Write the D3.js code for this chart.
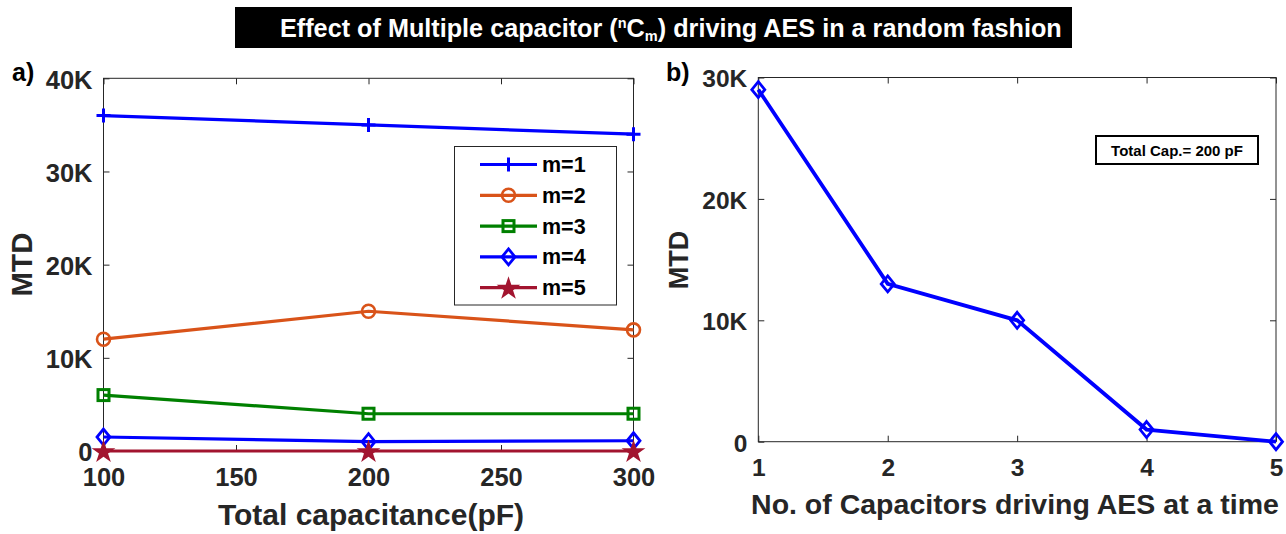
<!DOCTYPE html>
<html>
<head>
<meta charset="utf-8">
<script src="https://cdn.jsdelivr.net/npm/d3@7"></script>
<style>
  html,body{margin:0;padding:0;background:#fff;}
  svg{display:block;font-family:"Liberation Sans",Arial,sans-serif;font-weight:bold;}
</style>
</head>
<body>
<svg id="chart" width="1286" height="534"></svg>
<script>
// ---- data (panel a) ----
const capacitance = [100, 200, 300];
const seriesNames = ["m=1", "m=2", "m=3", "m=4", "m=5"];
const m1 = [36000, 35000, 34000];
const m2 = [12000, 15000, 13000];
const m3 = [6000, 4000, 4000];
const m4 = [1500, 1000, 1100];
const m5 = [0, 0, 0];
const xTicksA = [100, 150, 200, 250, 300];
const yTicksA = [0, 10000, 20000, 30000, 40000];
// ---- data (panel b) ----
const numCaps = [1, 2, 3, 4, 5];
const mtdB = [29000, 13000, 10000, 1000, 0];
const xTicksB = [1, 2, 3, 4, 5];
const yTicksB = [0, 10000, 20000, 30000];

const svg = d3.select("#chart");
const axisColor = "#262626";
const fmtK = d => d === 0 ? "0" : (d / 1000) + "K";

// ---- title ----
svg.append("rect").attr("x", 235).attr("y", 7).attr("width", 837).attr("height", 41).attr("fill", "#000");
const title = svg.append("text").attr("x", 0).attr("y", 0).attr("fill", "#fff").attr("font-size", 26);
title.append("tspan").text("Effect of Multiple capacitor (");
title.append("tspan").text("n").attr("font-size", 15).attr("baseline-shift", "60%");
title.append("tspan").text("C");
title.append("tspan").text("m").attr("font-size", 15).attr("baseline-shift", "-25%");
title.append("tspan").text(") driving AES in a random fashion");
const tw = title.node().getBBox().width;
title.attr("transform", `translate(280,37) scale(${782 / tw},1)`);

function panel(opts) {
  const g = svg.append("g");
  const x = d3.scaleLinear().domain(opts.xDomain).range(opts.xRange);
  const y = d3.scaleLinear().domain(opts.yDomain).range(opts.yRange);
  const [x0, x1] = opts.xRange, [y0, y1] = opts.yRange; // y0 bottom, y1 top

  const styleAxis = sel => {
    sel.select(".domain").remove();
    sel.selectAll("line").attr("stroke", axisColor);
    sel.selectAll("text").attr("fill", axisColor).attr("font-size", opts.tickFont).attr("font-family", null);
  };
  g.append("g").attr("transform", `translate(0,${y0})`)
    .call(d3.axisBottom(x).tickValues(opts.xTicks).tickSize(-6).tickSizeOuter(0).tickPadding(17).tickFormat(d3.format("d")))
    .call(styleAxis);
  g.append("g").attr("transform", `translate(0,${y1})`)
    .call(d3.axisTop(x).tickValues(opts.xTicks).tickSize(-6).tickSizeOuter(0).tickFormat(""))
    .call(styleAxis);
  g.append("g").attr("transform", `translate(${x0},0)`)
    .call(d3.axisLeft(y).tickValues(opts.yTicks).tickSize(-6).tickSizeOuter(0).tickPadding(11).tickFormat(fmtK))
    .call(styleAxis)
    .selectAll("text").attr("dy", "0.38em");
  g.append("g").attr("transform", `translate(${x1},0)`)
    .call(d3.axisRight(y).tickValues(opts.yTicks).tickSize(-6).tickSizeOuter(0).tickFormat(""))
    .call(styleAxis);
  g.append("rect").attr("x", x0).attr("y", y1).attr("width", x1 - x0).attr("height", y0 - y1)
    .attr("fill", "none").attr("stroke", axisColor).attr("stroke-width", 1);
  return {g, x, y};
}

// marker drawing
function marker(sel, type, color) {
  if (type === "plus") {
    sel.append("path").attr("d", "M-7,0H7M0,-7V7").attr("stroke", color).attr("stroke-width", 3).attr("fill", "none");
  } else if (type === "circle") {
    sel.append("circle").attr("r", 6.5).attr("stroke", color).attr("stroke-width", 2.6).attr("fill", "none");
  } else if (type === "square") {
    sel.append("rect").attr("x", -5.5).attr("y", -5.5).attr("width", 11).attr("height", 11)
      .attr("stroke", color).attr("stroke-width", 3).attr("fill", "none");
  } else if (type === "diamond") {
    sel.append("path").attr("d", "M0,-8L6.5,0L0,8L-6.5,0Z").attr("stroke", color).attr("stroke-width", 2.8).attr("fill", "none");
  } else if (type === "star") {
    sel.append("path").attr("d", d3.symbol(d3.symbolStar, 175)()).attr("transform", "translate(0,1)").attr("fill", color);
  }
}

// ---- panel a ----
const A = panel({xDomain: [100, 300], xRange: [103.5, 633.5], yDomain: [0, 40000], yRange: [451, 78.3],
                 xTicks: xTicksA, yTicks: yTicksA, tickFont: 25.5});
const seriesA = [m1, m2, m3, m4, m5];
const colorsA = ["#0000FF", "#D95319", "#008000", "#0000FF", "#A2142F"];
const markersA = ["plus", "circle", "square", "diamond", "star"];
const lineA = d3.line().x((d, i) => A.x(capacitance[i])).y(d => A.y(d));
seriesA.forEach((s, k) => {
  A.g.append("path").datum(s).attr("d", lineA).attr("fill", "none")
    .attr("stroke", colorsA[k]).attr("stroke-width", 3.2);
  s.forEach((v, i) => {
    const mg = A.g.append("g").attr("transform", `translate(${A.x(capacitance[i])},${A.y(v)})`);
    marker(mg, markersA[k], colorsA[k]);
  });
});
// axis labels a
svg.append("text").attr("x", 371).attr("y", 525).attr("text-anchor", "middle")
  .attr("font-size", 30).attr("fill", axisColor).text("Total capacitance(pF)");
svg.append("text").attr("transform", "translate(32,264.5) rotate(-90)").attr("text-anchor", "middle")
  .attr("font-size", 29.5).attr("fill", axisColor).text("MTD");
svg.append("text").attr("x", 12).attr("y", 81).attr("font-size", 25).attr("fill", "#000").text("a)");

// legend
const leg = svg.append("g");
leg.append("rect").attr("x", 454.5).attr("y", 146.5).attr("width", 162).attr("height", 158.5)
  .attr("fill", "#fff").attr("stroke", axisColor).attr("stroke-width", 1);
seriesNames.forEach((name, k) => {
  const yy = 164.5 + k * 30.8;
  leg.append("line").attr("x1", 480).attr("x2", 537).attr("y1", yy).attr("y2", yy)
    .attr("stroke", colorsA[k]).attr("stroke-width", 3.2);
  const mg = leg.append("g").attr("transform", `translate(508.5,${yy})`);
  marker(mg, markersA[k], colorsA[k]);
  leg.append("text").attr("x", 542).attr("y", yy + 7.5).attr("font-size", 21.5).attr("fill", "#000").text(name);
});

// ---- panel b ----
const B = panel({xDomain: [1, 5], xRange: [758.3, 1276], yDomain: [0, 30000], yRange: [441.7, 77.5],
                 xTicks: xTicksB, yTicks: yTicksB, tickFont: 24.5});
const lineB = d3.line().x((d, i) => B.x(numCaps[i])).y(d => B.y(d));
B.g.append("path").datum(mtdB).attr("d", lineB).attr("fill", "none").attr("stroke", "#0000FF").attr("stroke-width", 3.8);
mtdB.forEach((v, i) => {
  const mg = B.g.append("g").attr("transform", `translate(${B.x(numCaps[i])},${B.y(v)})`);
  marker(mg, "diamond", "#0000FF");
});
svg.append("text").attr("x", 1015).attr("y", 514).attr("text-anchor", "middle")
  .attr("font-size", 28.5).attr("fill", axisColor).text("No. of Capacitors driving AES at a time");
svg.append("text").attr("transform", "translate(688,260) rotate(-90)").attr("text-anchor", "middle")
  .attr("font-size", 27).attr("fill", axisColor).text("MTD");
svg.append("text").attr("x", 666).attr("y", 81).attr("font-size", 25).attr("fill", "#000").text("b)");

// annotation
svg.append("rect").attr("x", 1096).attr("y", 136).attr("width", 162).attr("height", 28)
  .attr("fill", "#fff").attr("stroke", "#000").attr("stroke-width", 2);
svg.append("text").attr("x", 1177).attr("y", 155.5).attr("text-anchor", "middle")
  .attr("font-size", 15).attr("fill", "#000").text("Total Cap.= 200 pF");
</script>
</body>
</html>
